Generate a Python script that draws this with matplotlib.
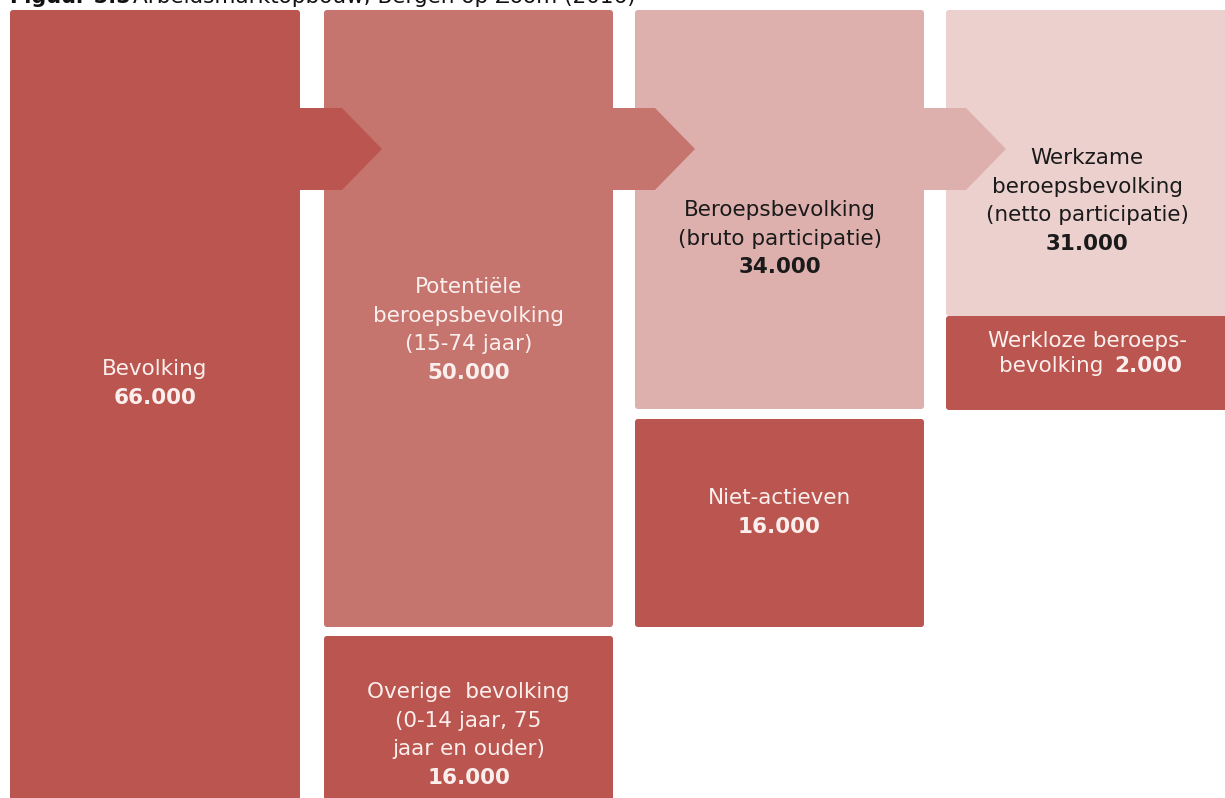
import matplotlib.pyplot as plt
from matplotlib.patches import FancyBboxPatch, Polygon

# labels and values (Bergen op Zoom, 2016)
main_labels = [
    ['Bevolking'],
    ['Potentiële', 'beroepsbevolking', '(15-74 jaar)'],
    ['Beroepsbevolking', '(bruto participatie)'],
    ['Werkzame', 'beroepsbevolking', '(netto participatie)'],
]
main_values = [66000, 50000, 34000, 31000]

rest_labels = [
    None,
    ['Overige  bevolking', '(0-14 jaar, 75', 'jaar en ouder)'],
    ['Niet-actieven'],
    ['Werkloze beroeps-'],
]
rest_values = [None, 16000, 16000, 2000]

# layout (pixels)
col_x = [10, 324, 635, 946]
col_w = [290, 289, 289, 282]
main_span = [(10, 810), (10, 627), (10, 409), (10, 316)]
rest_span = [None, (636, 810), (419, 627), (316, 410)]
main_text_y = [369, 287, 210, 158]
rest_text_y = [None, 692, 498, 341]

dark = '#BA564F'
main_colors = ['#BA564F', '#C5756E', '#DEB0AD', '#EBD0CE']
text_colors = ['#FBEFEE', '#FBEFEE', '#1A1A1A', '#1A1A1A']
light_txt = '#FBEFEE'


def fmt(v):
    return f'{v:,}'.replace(',', '.')


fig = plt.figure(figsize=(12.25, 7.98), dpi=100)
ax = fig.add_axes([0, 0, 1, 1])
ax.set_xlim(0, 1225)
ax.set_ylim(798, 0)
ax.axis('off')

fs = 15.5
lh = 28.7

for i in range(4):
    x, w = col_x[i], col_w[i]
    y0, y1 = main_span[i]
    ax.add_patch(FancyBboxPatch((x, y0), w, y1 - y0, boxstyle='round,pad=0,rounding_size=3',
                                fc=main_colors[i], ec='none', zorder=1))
    cx = x + w / 2
    lines = main_labels[i]
    for k, line in enumerate(lines):
        ax.text(cx, main_text_y[i] + k * lh, line, ha='center', va='center',
                fontsize=fs, color=text_colors[i])
    ax.text(cx, main_text_y[i] + len(lines) * lh, fmt(main_values[i]), ha='center',
            va='center', fontsize=fs, fontweight='bold', color=text_colors[i])

    # arrow to next column
    if i < 3:
        ax.add_patch(Polygon([(x + w - 2, 108), (x + w + 42, 108), (x + w + 82, 149),
                              (x + w + 42, 190), (x + w - 2, 190)],
                             closed=True, fc=main_colors[i], ec='none', zorder=2))

    if rest_span[i] is not None:
        r0, r1 = rest_span[i]
        ax.add_patch(FancyBboxPatch((x, r0), w, r1 - r0, boxstyle='round,pad=0,rounding_size=3',
                                    fc=dark, ec='none', zorder=1))
        lines = rest_labels[i]
        for k, line in enumerate(lines):
            ax.text(cx, rest_text_y[i] + k * lh, line, ha='center', va='center',
                    fontsize=fs, color=light_txt)
        if i == 3:
            yy = rest_text_y[i] + 25
            ax.text(cx + 16, yy, 'bevolking', ha='right', va='center',
                    fontsize=fs, color=light_txt)
            ax.text(cx + 27, yy, fmt(rest_values[i]), ha='left', va='center',
                    fontsize=fs, fontweight='bold', color=light_txt)
        else:
            ax.text(cx, rest_text_y[i] + len(lines) * lh, fmt(rest_values[i]), ha='center',
                    va='center', fontsize=fs, fontweight='bold', color=light_txt)

# title, cut off at the top like the source
ax.text(10, 3, 'Figuur 5.5', ha='left', va='baseline', fontsize=15,
        fontweight='bold', color='#111111')
ax.text(133, 3, 'Arbeidsmarktopbouw, Bergen op Zoom (2016)', ha='left', va='baseline',
        fontsize=15.5, color='#111111')

fig.savefig('out.png', dpi=100)
